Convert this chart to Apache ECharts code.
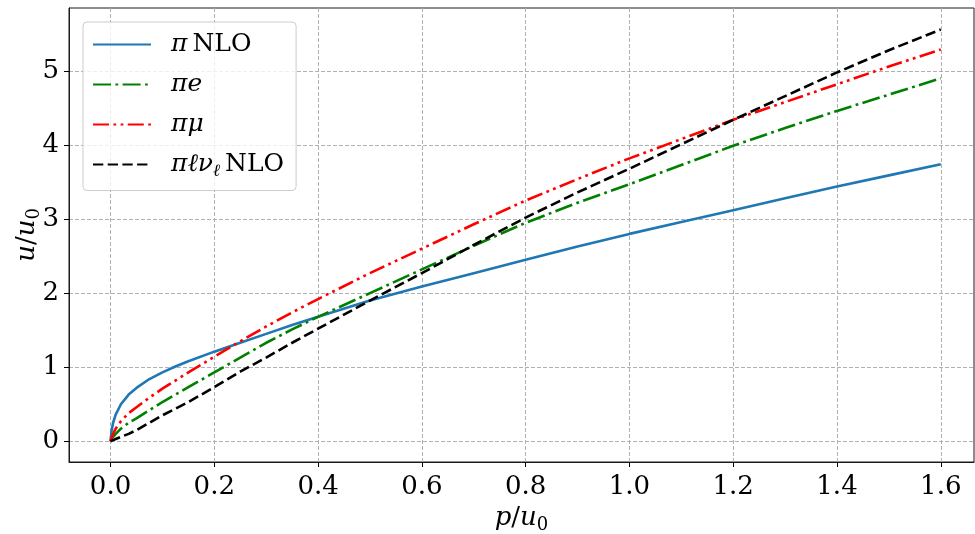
<!DOCTYPE html>
<html><head><meta charset="utf-8">
<script src="https://cdn.jsdelivr.net/npm/echarts@6/dist/echarts.min.js"></script>
<style>html,body{margin:0;padding:0;background:#fff}#c{width:975px;height:534px}</style>
</head><body><div id="c"></div>
<script>
// p/u0 sample positions (shared by all curves)
const P = [0, 0.002, 0.005, 0.01, 0.02, 0.035, 0.05, 0.075, 0.1, 0.125, 0.15, 0.2, 0.25, 0.3, 0.35, 0.4, 0.5, 0.6, 0.7, 0.8, 0.9, 1.0, 1.1, 1.2, 1.3, 1.4, 1.5, 1.6];
// u/u0 values
const uPiNLO = [0, 0.14, 0.25, 0.36, 0.50, 0.63, 0.72, 0.84, 0.93, 1.01, 1.08, 1.21, 1.33, 1.45, 1.57, 1.68, 1.90, 2.09, 2.27, 2.45, 2.63, 2.80, 2.96, 3.12, 3.28, 3.44, 3.59, 3.74];
const uPiE   = [0, 0.03, 0.06, 0.10, 0.17, 0.25, 0.31, 0.42, 0.53, 0.63, 0.73, 0.93, 1.13, 1.33, 1.51, 1.68, 2.00, 2.32, 2.64, 2.95, 3.22, 3.47, 3.73, 3.99, 4.23, 4.46, 4.68, 4.90];
const uPiMu  = [0, 0.05, 0.10, 0.17, 0.27, 0.38, 0.46, 0.59, 0.71, 0.82, 0.93, 1.14, 1.35, 1.55, 1.74, 1.92, 2.27, 2.60, 2.93, 3.25, 3.54, 3.82, 4.08, 4.34, 4.58, 4.82, 5.06, 5.29];
const uPiLNu = [0, 0.005, 0.015, 0.03, 0.06, 0.10, 0.15, 0.25, 0.35, 0.44, 0.53, 0.73, 0.94, 1.13, 1.33, 1.52, 1.90, 2.27, 2.65, 3.02, 3.36, 3.68, 4.01, 4.34, 4.66, 4.98, 5.28, 5.56];

const seriesNames = ['π NLO', 'πe', 'πμ', 'πℓνℓ NLO'];
const legendRich = {
  'π NLO': '{g| }{i|π}{t|NLO}',
  'πe': '{g| }{i|πe}',
  'πμ': '{g| }{i|πμ}',
  'πℓνℓ NLO': '{g| }{i|πℓν}{s|ℓ}{t|NLO}'
};
const xTicks = [0, 0.2, 0.4, 0.6, 0.8, 1.0, 1.2, 1.4, 1.6];
const yTicks = [0, 1, 2, 3, 4, 5];

const FONT = 'DejaVu Serif';
const richStyles = {
  g: {fontFamily: FONT, fontSize: 25, width: 15, lineHeight: 32},
  i: {fontFamily: FONT, fontStyle: 'italic', fontSize: 25, color: '#000', lineHeight: 32},
  t: {fontFamily: FONT, fontSize: 25, color: '#000', lineHeight: 32, padding: [0, 0, 0, 5]},
  s: {fontFamily: FONT, fontStyle: 'italic', fontSize: 17, color: '#000', lineHeight: 17, verticalAlign: 'bottom'}
};
const nameRich = {
  i: {fontFamily: FONT, fontStyle: 'italic', fontSize: 26, color: '#000', lineHeight: 32},
  r: {fontFamily: FONT, fontSize: 26, color: '#000', lineHeight: 32},
  s: {fontFamily: FONT, fontSize: 18, color: '#000', lineHeight: 18, verticalAlign: 'bottom'}
};

const pairs = arr => P.map((p, k) => [p, arr[k]]);
const styles = [
  {color: '#1f77b4', type: 'solid'},
  {color: '#008000', type: [18, 4.4, 2.8, 4.4]},
  {color: '#ff0000', type: [16, 4.4, 2.8, 4.4, 2.8, 4.4]},
  {color: '#000000', type: [10.3, 4.4]}
];
const values = [uPiNLO, uPiE, uPiMu, uPiLNu];

const chart = echarts.init(document.getElementById('c'), null, {renderer: 'canvas'});
chart.setOption({
  animation: false,
  backgroundColor: '#fff',
  grid: {left: 69, right: 1, top: 8, bottom: 72, containLabel: false, outerBoundsMode: 'none',
         show: true, borderColor: '#1a1a1a', borderWidth: 1},
  xAxis: {
    type: 'value', min: -0.08, max: 1.664,
    name: '{i|p}{r|/}{i|u}{s|0}', nameLocation: 'middle', nameGap: 40, nameMoveOverlap: false,
    nameTextStyle: {rich: nameRich},
    axisLine: {show: true, onZero: false, lineStyle: {color: '#1a1a1a', width: 1}},
    axisTick: {show: true, inside: false, length: 5, customValues: xTicks, lineStyle: {color: '#000'}},
    axisLabel: {customValues: xTicks, margin: 12, fontFamily: FONT, fontSize: 26, color: '#000',
                formatter: v => v.toFixed(1)},
    splitLine: {show: true, lineStyle: {color: '#b0b0b0', width: 1, type: [4, 2]}}
  },
  yAxis: {
    type: 'value', min: -0.28, max: 5.85,
    name: '{i|u}{r|/}{i|u}{s|0}', nameLocation: 'middle', nameGap: 26, nameMoveOverlap: false,
    nameTextStyle: {rich: nameRich},
    axisLine: {show: true, onZero: false, lineStyle: {color: '#1a1a1a', width: 1}},
    axisTick: {show: true, inside: false, length: 5, customValues: yTicks, lineStyle: {color: '#000'}},
    axisLabel: {customValues: yTicks, margin: 10, fontFamily: FONT, fontSize: 26, color: '#000',
                formatter: v => String(Math.round(v))},
    splitLine: {show: true, lineStyle: {color: '#b0b0b0', width: 1, type: [4, 2]}}
  },
  legend: {
    orient: 'vertical', left: 83, top: 22,
    padding: [10, 12, 10, 9], itemGap: 15, itemWidth: 58, itemHeight: 14,
    backgroundColor: 'rgba(255,255,255,0.8)', borderColor: '#cccccc', borderWidth: 1, borderRadius: 4,
    data: seriesNames,
    itemStyle: {opacity: 0},
    formatter: n => legendRich[n],
    textStyle: {fontFamily: FONT, fontSize: 25, color: '#000', rich: richStyles}
  },
  series: seriesNames.map((n, k) => ({
    name: n, type: 'line', data: pairs(values[k]), symbol: 'none', showSymbol: false,
    smooth: false, clip: true,
    lineStyle: {color: styles[k].color, width: 2.6, type: styles[k].type, cap: 'butt'},
    itemStyle: {color: styles[k].color},
    emphasis: {disabled: true}
  }))
});
</script></body></html>
